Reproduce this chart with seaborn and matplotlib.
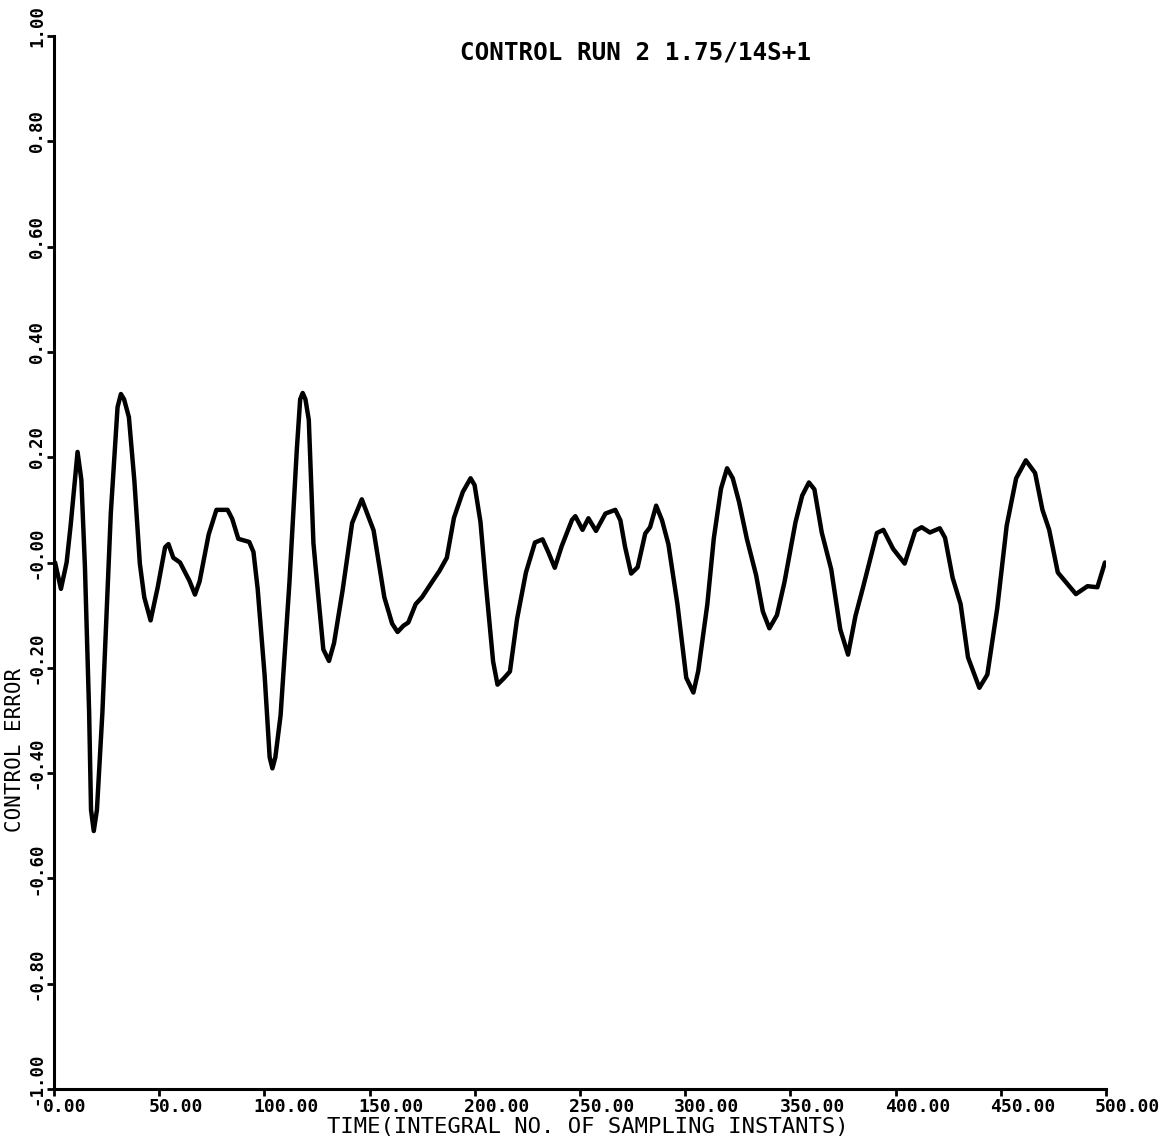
import matplotlib
matplotlib.use("Agg")
import matplotlib.pyplot as plt
import matplotlib.transforms as mtransforms
import seaborn as sns
import pandas as pd

# ---- data ----
time = [0.5, 3.3, 6.0, 7.9, 11.2, 13.0, 14.7, 16.7, 17.6, 18.9, 20.4, 23.0, 27.0, 30.2,
        31.8, 33.3, 35.6, 38.2, 40.8, 42.9, 45.9, 49.3, 52.8, 54.4, 56.7, 59.9, 64.4,
        67.0, 69.2, 73.5, 77.2, 82.5, 84.7, 87.6, 92.8, 94.8, 96.8, 100.1, 102.5, 103.8,
        105.2, 107.7, 111.9, 115.4, 117.0, 118.2, 119.5, 121.1, 123.3, 125.3, 128.0,
        130.7, 133.1, 137.2, 141.7, 146.3, 151.9,
        157.0, 160.7, 163.3, 166.1, 168.4, 171.9, 174.9, 180.0, 183.2, 186.7, 190.1,
        194.3, 198.0, 199.9, 202.7, 205.3, 208.7, 210.8, 213.8, 216.7, 220.1, 224.3,
        228.6, 232.2, 235.0, 238.0, 241.3, 246.2, 247.8, 251.2, 254.0, 257.6, 262.1,
        266.8, 269.2, 271.4, 274.3, 277.4, 281.0, 283.3, 286.2, 289.0, 292.0, 296.3,
        300.5, 303.9, 306.2, 310.5, 313.6, 317.0, 319.9, 322.6, 325.6, 329.3, 333.7,
        336.9, 340.0, 343.6, 347.2, 352.4, 355.6, 358.8, 361.4, 364.9, 369.4, 373.7,
        377.4, 380.9, 384.6, 391.1, 394.2, 398.8, 404.3, 409.3, 412.4, 416.3, 421.0,
        423.5, 427.1, 430.9, 434.4, 439.8, 443.6, 448.3, 452.8, 457.3, 461.9, 466.3,
        469.8, 473.0, 477.1, 481.1, 485.7, 491.2, 495.9, 499.5]
error = [0.00, -0.05, 0.00, 0.07, 0.21, 0.157, -0.008, -0.285, -0.47, -0.51, -0.47,
         -0.285, 0.094, 0.295, 0.32, 0.31, 0.276, 0.155, -0.002, -0.066, -0.11, -0.047,
         0.029, 0.035, 0.009, 0.0, -0.035, -0.061, -0.036, 0.053, 0.10, 0.10, 0.083,
         0.045, 0.039, 0.02, -0.05, -0.214, -0.37, -0.391, -0.37, -0.29, -0.038, 0.214,
         0.31, 0.322, 0.31, 0.271, 0.037, -0.051,
         -0.165, -0.187, -0.153, -0.052, 0.075, 0.12, 0.061, -0.066, -0.116, -0.132,
         -0.12, -0.114, -0.079, -0.066, -0.035, -0.016, 0.009, 0.085, 0.134, 0.16,
         0.147, 0.077, -0.043, -0.188, -0.232, -0.22, -0.207, -0.107, -0.019, 0.038,
         0.044, 0.019, -0.01, 0.031, 0.081, 0.088, 0.062, 0.084, 0.06, 0.093, 0.10,
         0.08, 0.03, -0.021, -0.009, 0.055, 0.067, 0.108, 0.08, 0.035, -0.079, -0.219,
         -0.247, -0.206, -0.08, 0.046, 0.14, 0.179, 0.16, 0.115, 0.045, -0.024, -0.093,
         -0.125, -0.10, -0.037, 0.076, 0.127, 0.152, 0.139, 0.057, -0.013, -0.127,
         -0.175, -0.102, -0.046, 0.056, 0.062, 0.026, -0.002, 0.06, 0.067, 0.057, 0.065,
         0.047, -0.029, -0.079, -0.18, -0.238, -0.213, -0.087, 0.07, 0.16, 0.194, 0.17,
         0.10, 0.062, -0.019, -0.038, -0.06, -0.045, -0.047, 0.00]

x_ticks = [0, 50, 100, 150, 200, 250, 300, 350, 400, 450, 500]
x_tick_labels = ["0.00", "50.00", "100.00", "150.00", "200.00", "250.00",
                 "300.00", "350.00", "400.00", "450.00", "500.00"]
y_ticks = [-1.0, -0.8, -0.6, -0.4, -0.2, 0.0, 0.2, 0.4, 0.6, 0.8, 1.0]
y_tick_labels = ["-1.00", "-0.80", "-0.60", "-0.40", "-0.20", "-0.00",
                 "0.20", "0.40", "0.60", "0.80", "1.00"]

title = "CONTROL RUN 2 1.75/14S+1"
x_label = "TIME(INTEGRAL NO. OF SAMPLING INSTANTS)"
y_label = "CONTROL ERROR"

df = pd.DataFrame({"time": time, "error": error})

sns.set_theme(style="ticks")
plt.rcParams["font.family"] = ["DejaVu Sans Mono", "DejaVu Sans"]
plt.rcParams["text.color"] = "black"

W, H = 1170, 1141
fig = plt.figure(figsize=(W / 100, H / 100), dpi=100)
fig.patch.set_facecolor("white")
ax = fig.add_axes([54 / W, 1 - 1089 / H, (1106 - 54) / W, (1089 - 36) / H])
ax.set_facecolor("white")

sns.lineplot(data=df, x="time", y="error", color="black", linewidth=3.2,
             estimator=None, sort=False, ax=ax,
             solid_joinstyle="round", solid_capstyle="round")

ax.set_xlim(0, 500)
ax.set_ylim(-1.0, 1.0)
ax.set_xticks(x_ticks)
ax.set_xticklabels(x_tick_labels, fontsize=13, fontweight="bold", ha="left")
ax.set_yticks(y_ticks)
ax.set_yticklabels(y_tick_labels, fontsize=12.5, fontweight="bold",
                   rotation=90, va="center")
ax.set_xlabel("")
ax.set_ylabel("")

for s in ["top", "right"]:
    ax.spines[s].set_visible(False)
for s in ["left", "bottom"]:
    ax.spines[s].set_linewidth(2.2)
    ax.spines[s].set_color("black")
ax.tick_params(axis="both", direction="out", length=5, width=2,
               colors="black", labelcolor="black")
ax.tick_params(axis="x", pad=1.5)
ax.tick_params(axis="y", pad=0.8)

# shift tick labels like the plotter output
offx = mtransforms.ScaledTranslation(-0.11, 0, fig.dpi_scale_trans)
for lab in ax.get_xticklabels():
    lab.set_transform(lab.get_transform() + offx)
offy = mtransforms.ScaledTranslation(0, 0.10, fig.dpi_scale_trans)
for lab in ax.get_yticklabels():
    lab.set_transform(lab.get_transform() + offy)

fig.text(636 / W, 1 - 52 / H, title, ha="center", va="center",
         fontsize=17.5, fontweight="bold", color="black")
fig.text(588 / W, 1 - 1127 / H, x_label, ha="center", va="center",
         fontsize=16, color="black")
fig.text(15 / W, 1 - 750 / H, y_label, ha="center", va="center",
         fontsize=15, rotation=90, color="black")

fig.savefig("out.png", dpi=100, facecolor="white")
